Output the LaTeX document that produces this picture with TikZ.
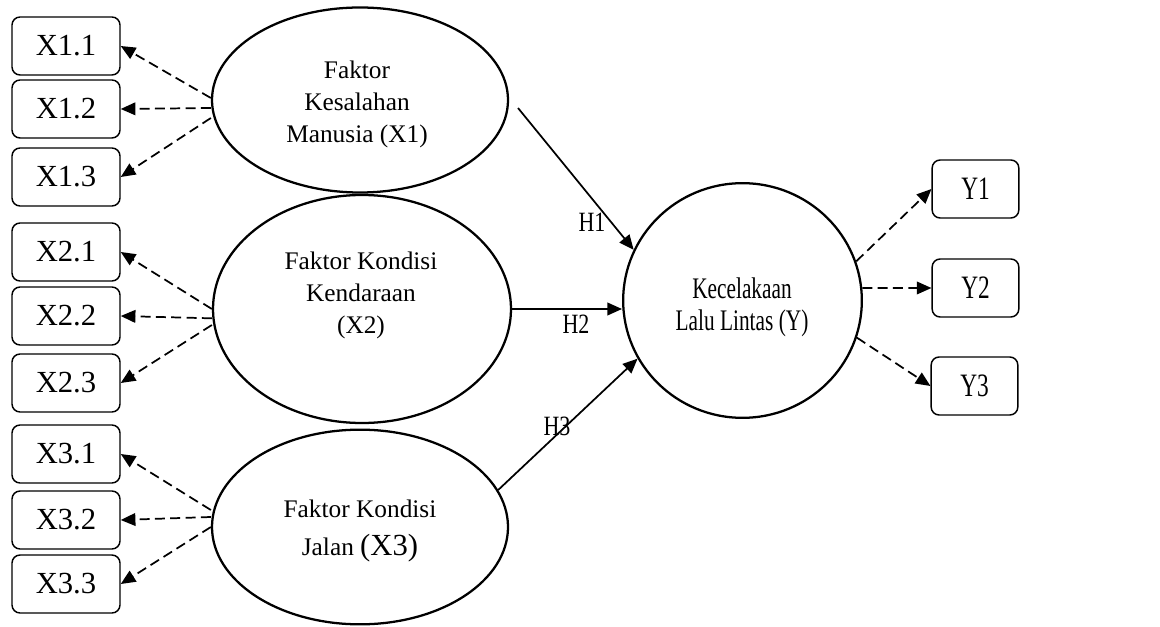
\documentclass[tikz,border=0pt]{standalone}
\usepackage{graphicx}
\usepackage{fontspec}
\setmainfont{Liberation Serif}
\usetikzlibrary{shapes.geometric,arrows.meta}
\newcommand{\vst}[2]{\scalebox{1}[#1]{#2}}
\begin{document}
\begin{tikzpicture}[x=0.75pt,y=-0.75pt,
  ind/.style={draw,rounded corners=6pt,line width=1.1pt,minimum width=81pt,minimum height=43.5pt,inner sep=0pt,font=\fontsize{23}{26}\selectfont},
  indy/.style={ind,minimum width=65pt,font=\fontsize{17.5}{24}\selectfont},
  lat/.style={draw,ellipse,line width=1.7pt,inner sep=0pt},
  lbl/.style={align=center,inner sep=0pt,font=\fontsize{19}{24}\selectfont},
  dsh/.style={dash pattern=on 7.5pt off 4pt,line width=1.3pt,-{Triangle[length=11pt,width=9.5pt]}},
  hyp/.style={line width=1.3pt,-{Triangle[length=11pt,width=9.5pt]}},
  hl/.style={inner sep=0pt,font=\fontsize{16.5}{20}\selectfont}]
\useasboundingbox (0,0) rectangle (1160,627);

% indicator boxes X
\node[ind] (x11) at (66,46) {X1.1};
\node[ind] (x12) at (66,109) {X1.2};
\node[ind] (x13) at (66,177) {X1.3};
\node[ind] (x21) at (66,252) {X2.1};
\node[ind] (x22) at (66,316) {X2.2};
\node[ind] (x23) at (66,383) {X2.3};
\node[ind] (x31) at (66,454) {X3.1};
\node[ind] (x32) at (66,520) {X3.2};
\node[ind] (x33) at (66,584) {X3.3};

% Y boxes
\node[indy] (y1) at (975.5,189) {\vst{1.4}{Y1}};
\node[indy] (y2) at (975.5,288) {\vst{1.4}{Y2}};
\node[indy] (y3) at (974.5,386) {\vst{1.4}{Y3}};

% latent ellipses
\node[lat,minimum width=222pt,minimum height=138.75pt] (e1) at (360,100) {};
\node[lat,minimum width=223.5pt,minimum height=171pt] (e2) at (362,309) {};
\node[lat,minimum width=222pt,minimum height=146pt] (e3) at (360,527) {};
\node[lat,minimum width=179pt,minimum height=176pt] (ey) at (742.5,300.5) {};

\node[lbl] (t1) at (357,104) {Faktor\\Kesalahan\\Manusia (X1)};
\node[lbl] (t2) at (361,295) {Faktor Kondisi\\Kendaraan\\(X2)};
\node[lbl,font=\fontsize{19}{28}\selectfont] (t3) at (360,531) {Faktor Kondisi\\Jalan {\fontsize{23}{28}\selectfont(X3)}};
\node[lbl,font=\fontsize{16}{24}\selectfont] (ty) at (742,307) {\vst{1.4}{Kecelakaan}\\\vst{1.4}{Lalu Lintas (Y)}};

% indicator arrows
\draw[dsh] ([yshift=1.5pt]e1.west) -- (x11.east);
\draw[dsh] ([yshift=-6pt]e1.west) -- (x12.east);
\draw[dsh] ([yshift=-13.5pt]e1.west) -- (x13.east);
\draw[dsh] (e2.west) -- (x21.east);
\draw[dsh] ([yshift=-7pt]e2.west) -- (x22.east);
\draw[dsh] ([yshift=-12pt]e2.west) -- (x23.east);
\draw[dsh] ([yshift=12.75pt]e3.west) -- (x31.east);
\draw[dsh] ([yshift=7.5pt]e3.west) -- (x32.east);
\draw[dsh] (e3.west) -- (x33.east);

\draw[dsh] (ey.19) -- (y1.west);
\draw[dsh] (ey.6) -- (y2.west);
\draw[dsh] (ey.-18) -- (y3.west);

% structural paths
\coordinate (c1) at (518,108);
\draw[hyp] (c1) -- (ey.155);
\draw[hyp] (e2.east) -- (e2.east -| ey.west);
\draw[hyp] (e3.15) -- (ey.209);

\node[hl] (h1) at (592,222) {\vst{1.27}{H1}};
\node[hl] (h2) at (576,324) {\vst{1.27}{H2}};
\node[hl] (h3) at (557,426) {\vst{1.27}{H3}};
\end{tikzpicture}
\end{document}
